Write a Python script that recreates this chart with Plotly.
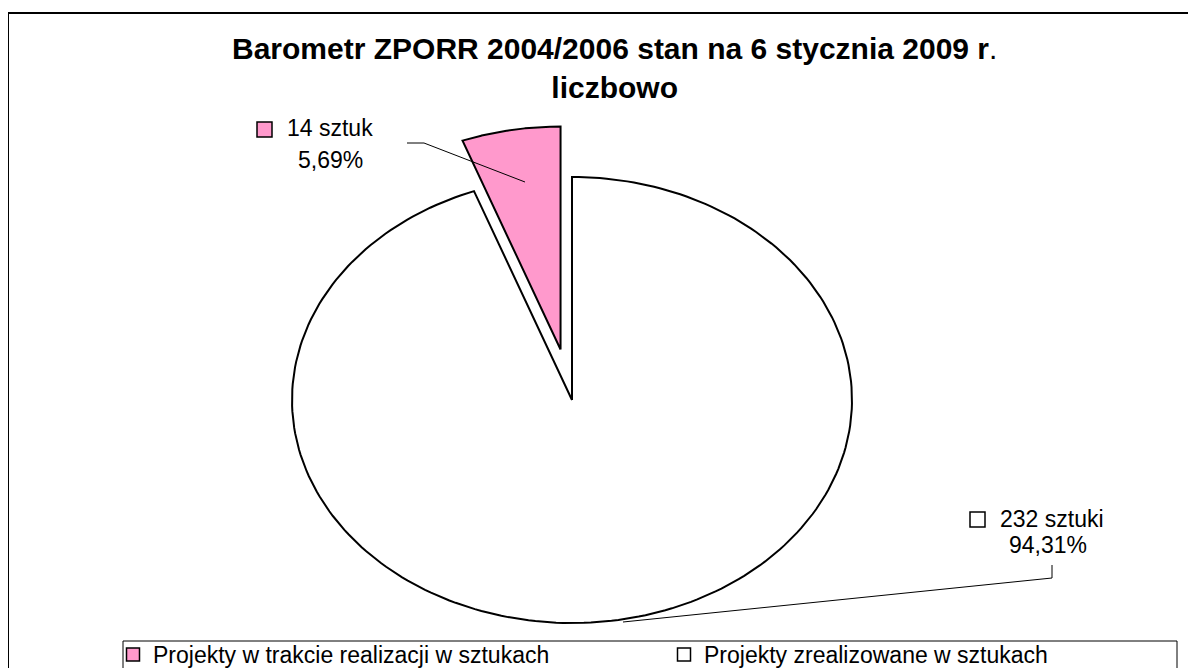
import numpy as np
import plotly.graph_objects as go

# ---- data ----
categories = ["Projekty w trakcie realizacji w sztukach", "Projekty zrealizowane w sztukach"]
values = [14, 232]
unit_labels = ["14 sztuk", "232 sztuki"]
colors = ["#FF99CC", "#FFFFFF"]
title_line1 = "Barometr ZPORR 2004/2006 stan na 6 stycznia 2009 r"
title_line2 = "liczbowo"

# ---- layout geometry (screen pixels; the page body adds an 8px offset) ----
W, H = 1196, 668
OFF = 8
CX, CY, RX, RY = 572 - OFF, 400 - OFF, 280, 223
PULL = 0.23
FONT = "Arial, Liberation Sans, sans-serif"

def P(x, y):
    return (x - OFF) / W, 1 - (y - OFF) / H

total = sum(values)
pcts = [v / total * 100 for v in values]
pct_txt = [f"{p:.2f}".replace(".", ",") + "%" for p in pcts]

fig = go.Figure()

order = [1, 0]
start = 0.0
for i in order:
    span = values[i] / total * 2 * np.pi
    a0, a1 = start, start + span
    start = a1
    mid = (a0 + a1) / 2
    pull = PULL if i == 0 else 0.0
    ox, oy = pull * np.sin(mid), pull * np.cos(mid)
    t = np.linspace(a0, a1, 240)
    xs = np.concatenate([[ox], ox + np.sin(t), [ox]])
    ys = np.concatenate([[oy], oy + np.cos(t), [oy]])
    fig.add_trace(go.Scatter(
        x=xs, y=ys, mode="lines", fill="toself", fillcolor=colors[i],
        line=dict(color="black", width=2), hoverinfo="skip", showlegend=False))

for i, cat in enumerate(categories):
    fig.add_trace(go.Scatter(
        x=[None], y=[None], mode="markers", name=cat,
        marker=dict(symbol="square", size=13, color=colors[i],
                    line=dict(color="black", width=1.5))))

shapes = []
x0, y0 = P(8, 13)
shapes.append(dict(type="rect", xref="paper", yref="paper", x0=x0, y0=y0, x1=1.02, y1=-0.02,
                   line=dict(color="black", width=2), fillcolor="rgba(0,0,0,0)", layer="above"))
# legend frame
a, b = P(123, 641)
c2, d = P(1177, 700)
shapes.append(dict(type="rect", xref="paper", yref="paper", x0=a, y0=b, x1=c2, y1=d,
                   line=dict(color="black", width=1), fillcolor="white", layer="above"))

def path(pts):
    s = ""
    for k, (x, y) in enumerate(pts):
        px_, py_ = P(x, y)
        s += ("M" if k == 0 else "L") + f"{px_},{py_} "
    return s.strip()

shapes.append(dict(type="path", xref="paper", yref="paper",
                   path=path([(407, 143), (424, 143), (525, 182)]),
                   line=dict(color="black", width=1)))
shapes.append(dict(type="path", xref="paper", yref="paper",
                   path=path([(1052, 565), (1052, 578), (623, 622)]),
                   line=dict(color="black", width=1)))

for (lx0, ly0, lx1, ly1), c in [((257, 122, 272, 137), colors[0]), ((970, 512, 985, 527), colors[1])]:
    a, b = P(lx0, ly0)
    c2, d = P(lx1, ly1)
    shapes.append(dict(type="rect", xref="paper", yref="paper", x0=a, y0=b, x1=c2, y1=d,
                       fillcolor=c, line=dict(color="black", width=1.5)))

annotations = []
def txt(x, y, s, anchor, size):
    px_, py_ = P(x, y)
    annotations.append(dict(xref="paper", yref="paper", x=px_, y=py_, xanchor=anchor, yanchor="middle",
                            text=s, showarrow=False, align="center",
                            font=dict(family=FONT, size=size, color="black")))

txt(285, 128, unit_labels[0], "left", 23)
txt(330, 160, pct_txt[0], "center", 23)
txt(998, 519, unit_labels[1], "left", 23)
txt(1048, 545, pct_txt[1], "center", 23)
txt(614, 68, f"<b>{title_line1}</b>.<br><b>{title_line2}</b>", "center", 30)

lx, ly = P(113, 633)
fig.update_layout(
    width=W, height=H,
    margin=dict(l=0, r=0, t=0, b=0, autoexpand=False),
    paper_bgcolor="white", plot_bgcolor="white",
    xaxis=dict(visible=False, range=[-CX / RX, (W - CX) / RX], fixedrange=True),
    yaxis=dict(visible=False, range=[-(H - CY) / RY, CY / RY], fixedrange=True),
    showlegend=True,
    legend=dict(orientation="h", x=lx, y=ly, xanchor="left", yanchor="top",
                borderwidth=0, bgcolor="rgba(0,0,0,0)",
                font=dict(family=FONT, size=23, color="black"),
                entrywidth=506, entrywidthmode="pixels", itemwidth=30, traceorder="normal"),
    shapes=shapes, annotations=annotations,
)

fig.write_html("out.html")
